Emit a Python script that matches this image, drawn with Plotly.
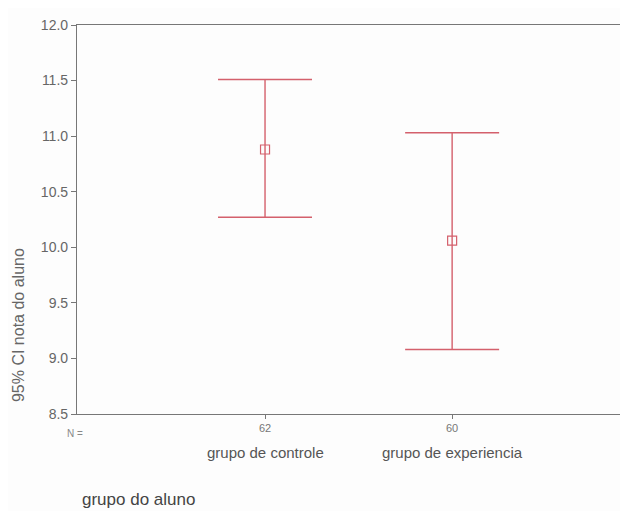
import plotly.graph_objects as go

groups = ["grupo de controle", "grupo de experiencia"]
n_values = ["62", "60"]
means = [10.88, 10.06]
upper = [11.51, 11.03]
lower = [10.27, 9.08]
y_ticks = [8.5, 9.0, 9.5, 10.0, 10.5, 11.0, 11.5, 12.0]

col = "#d4606c"
font = "Liberation Sans, Arial, sans-serif"

fig = go.Figure()
fig.add_trace(go.Scatter(
    x=groups, y=means, mode="markers",
    marker=dict(symbol="square-open", size=9, color=col, line=dict(width=1.2, color=col)),
    error_y=dict(type="data", symmetric=False,
                 array=[u - m for u, m in zip(upper, means)],
                 arrayminus=[m - l for m, l in zip(means, lower)],
                 color=col, thickness=1.4, width=47),
    showlegend=False,
))

fig.update_layout(
    width=620, height=503,
    margin=dict(l=69, r=0, t=17, b=97),
    paper_bgcolor="#fdfdfd", plot_bgcolor="#fdfdfd",
    font=dict(family=font, color="#555"),
    xaxis=dict(type="category", range=[-1.005, 1.94], tickvals=groups, ticktext=n_values,
               showline=True, mirror=True, linecolor="#777", linewidth=1.2,
               ticks="outside", ticklen=4, tickcolor="#777",
               tickfont=dict(size=11, color="#777"), showgrid=False, zeroline=False),
    yaxis=dict(range=[8.5, 12.0], tickvals=y_ticks, tickformat=".1f",
               showline=True, linecolor="#777", linewidth=1.2,
               ticks="outside", ticklen=5, tickcolor="#777",
               tickfont=dict(size=14, color="#666"), showgrid=False, zeroline=False),
)

for g in groups:
    fig.add_annotation(x=g, xref="x", y=-0.1, yref="paper", text=g, showarrow=False,
                       font=dict(size=15, color="#555"), xanchor="center", yanchor="middle")

fig.add_annotation(x=-0.0218, xref="paper", y=-0.049, yref="paper", text="N =", showarrow=False,
                   font=dict(size=10, color="#888"), xanchor="left", yanchor="middle")
fig.add_annotation(x=0.0054, xref="paper", y=-0.221, yref="paper", text="grupo do aluno",
                   showarrow=False, font=dict(size=17, color="#444"), xanchor="left", yanchor="middle")
fig.add_annotation(x=-0.105, xref="paper", y=0.229, yref="paper", text="95% CI nota do aluno",
                   showarrow=False, textangle=-90, font=dict(size=16, color="#666"),
                   xanchor="center", yanchor="middle")

fig.write_html("out.html")
